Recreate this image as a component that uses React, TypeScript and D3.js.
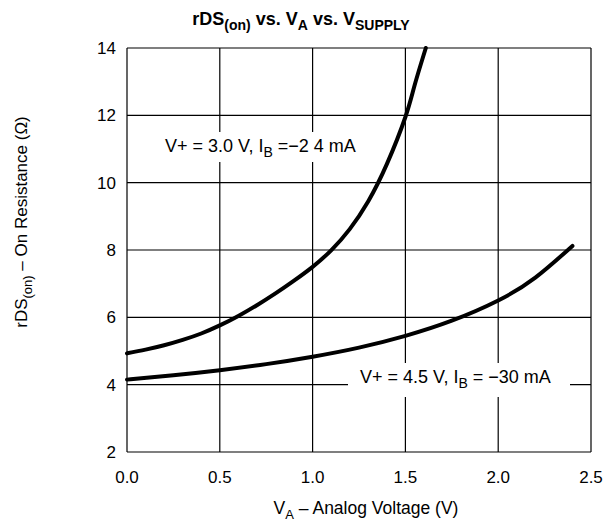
import React, { useRef, useEffect } from "react";
import * as d3 from "d3";

// V+ = 3.0 V, IB = -24 mA
const va3 = [0, 0.1, 0.2, 0.3, 0.4, 0.5, 0.6, 0.7, 0.8, 0.9, 1.0, 1.1, 1.2, 1.3, 1.4, 1.5, 1.55, 1.61];
const r3 = [4.93, 5.04, 5.17, 5.33, 5.52, 5.76, 6.04, 6.36, 6.71, 7.09, 7.5, 7.99, 8.62, 9.45, 10.55, 11.95, 12.9, 14.0];

// V+ = 4.5 V, IB = -30 mA
const va45 = [0, 0.25, 0.5, 0.75, 1.0, 1.25, 1.5, 1.75, 2.0, 2.2, 2.4];
const r45 = [4.15, 4.28, 4.43, 4.61, 4.83, 5.1, 5.45, 5.9, 6.5, 7.18, 8.12];

const xTicks = [0, 0.5, 1.0, 1.5, 2.0, 2.5];
const yTicks = [2, 4, 6, 8, 10, 12, 14];

const App = () => {
  const ref = useRef<SVGSVGElement>(null);

  useEffect(() => {
    const svg = d3.select(ref.current);
    svg.selectAll("*").remove();

    const width = 605;
    const height = 524;
    const font = "'Liberation Sans', Arial, sans-serif";

    const x = d3.scaleLinear().domain([0, 2.5]).range([127, 591]);
    const y = d3.scaleLinear().domain([2, 14]).range([452, 48]);

    svg.attr("width", width).attr("height", height);
    svg.append("rect").attr("width", width).attr("height", height).attr("fill", "#fff");

    // grid
    const grid = svg.append("g").attr("stroke", "#000").attr("stroke-width", 1.2);
    grid.selectAll(".vx")
      .data(xTicks)
      .enter()
      .append("line")
      .attr("x1", (d) => x(d))
      .attr("x2", (d) => x(d))
      .attr("y1", y(2))
      .attr("y2", y(14));
    grid.selectAll(".hy")
      .data(yTicks)
      .enter()
      .append("line")
      .attr("x1", x(0))
      .attr("x2", x(2.5))
      .attr("y1", (d) => y(d))
      .attr("y2", (d) => y(d));

    // tick labels
    svg.append("g")
      .selectAll("text")
      .data(yTicks)
      .enter()
      .append("text")
      .attr("x", x(0) - 11)
      .attr("y", (d) => y(d) + 6)
      .attr("text-anchor", "end")
      .attr("font-family", font)
      .attr("font-size", "17px")
      .text((d) => d);

    svg.append("g")
      .selectAll("text")
      .data(xTicks)
      .enter()
      .append("text")
      .attr("x", (d) => x(d))
      .attr("y", y(2) + 31)
      .attr("text-anchor", "middle")
      .attr("font-family", font)
      .attr("font-size", "17px")
      .text((d) => d.toFixed(1));

    // curves
    const line = d3.line<number>()
      .x((d) => x(d))
      .curve(d3.curveNatural);

    const drawCurve = (xs: number[], ys: number[]) => {
      svg.append("path")
        .attr("d", line.y((_, i) => y(ys[i]))(xs))
        .attr("fill", "none")
        .attr("stroke", "#000")
        .attr("stroke-width", 4)
        .attr("stroke-linecap", "round");
    };
    drawCurve(va3, r3);
    drawCurve(va45, r45);

    // labels with white boxes
    const label = (lx: number, ly: number, bx: number, by: number, bw: number, bh: number, main: string, tail: string) => {
      svg.append("rect")
        .attr("x", bx).attr("y", by).attr("width", bw).attr("height", bh)
        .attr("fill", "#fff");
      const t = svg.append("text")
        .attr("x", lx)
        .attr("y", ly)
        .attr("font-family", font)
        .attr("font-size", "18px");
      t.append("tspan").text(main);
      t.append("tspan").attr("dy", 5).attr("font-size", "14px").text("B");
      t.append("tspan").attr("dy", -5).text(tail);
    };
    label(165, 152, 150, 132, 222, 30, "V+ = 3.0 V, I", " =\u22122 4 mA");
    label(360, 383, 348, 363, 222, 34, "V+ = 4.5 V, I", " = \u221230 mA");

    // title
    const title = svg.append("text")
      .attr("x", 301)
      .attr("y", 25)
      .attr("text-anchor", "middle")
      .attr("font-family", font)
      .attr("font-size", "18px")
      .attr("font-weight", "bold");
    title.append("tspan").text("rDS");
    title.append("tspan").attr("dy", 5).attr("font-size", "14px").text("(on)");
    title.append("tspan").attr("dy", -5).text(" vs. V");
    title.append("tspan").attr("dy", 5).attr("font-size", "14px").text("A");
    title.append("tspan").attr("dy", -5).text(" vs. V");
    title.append("tspan").attr("dy", 5).attr("font-size", "14px").text("SUPPLY");

    // x axis title
    const xt = svg.append("text")
      .attr("x", 366)
      .attr("y", 514)
      .attr("text-anchor", "middle")
      .attr("font-family", font)
      .attr("font-size", "17.5px");
    xt.append("tspan").text("V");
    xt.append("tspan").attr("dy", 5).attr("font-size", "13px").text("A");
    xt.append("tspan").attr("dy", -5).text(" \u2013 Analog Voltage (V)");

    // y axis title
    const yt = svg.append("text")
      .attr("transform", "translate(27, 222) rotate(-90)")
      .attr("text-anchor", "middle")
      .attr("font-family", font)
      .attr("font-size", "17px");
    yt.append("tspan").text("rDS");
    yt.append("tspan").attr("dy", 5).attr("font-size", "13px").text("(on)");
    yt.append("tspan").attr("dy", -5).text(" \u2013 On Resistance (\u03A9)");
  }, []);

  return <svg ref={ref} style={{ position: "absolute", left: 0, top: 0 }}></svg>;
};

export default App;
